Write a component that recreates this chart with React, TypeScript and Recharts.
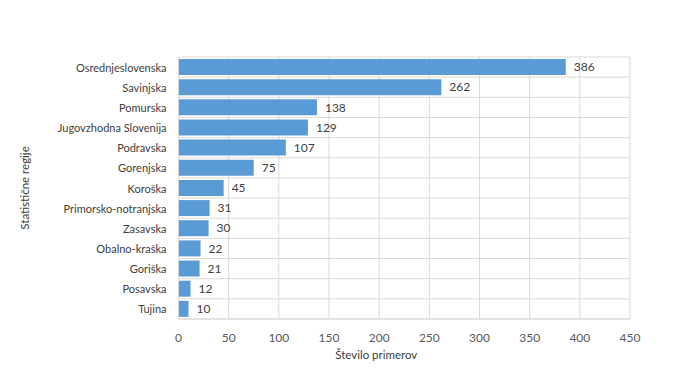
import { BarChart, Bar, XAxis, YAxis, CartesianGrid, LabelList } from 'recharts'

const regions = [
  'Osrednjeslovenska',
  'Savinjska',
  'Pomurska',
  'Jugovzhodna Slovenija',
  'Podravska',
  'Gorenjska',
  'Koroška',
  'Primorsko-notranjska',
  'Zasavska',
  'Obalno-kraška',
  'Goriška',
  'Posavska',
  'Tujina',
]
const counts = [386, 262, 138, 129, 107, 75, 45, 31, 30, 22, 21, 12, 10]
const xTicks = [0, 50, 100, 150, 200, 250, 300, 350, 400, 450]

const data = regions.map((name, i) => ({ name, value: counts[i] }))

const FONT = 'Lato, "Open Sans", sans-serif'
const GRID = '#d9d9d9'

// y ticks drawn by hand so long names stay on one line
const RegionTick = ({ x, y, payload }: any) => (
  <text x={x} y={y} textAnchor="end" dominantBaseline="central" fontSize={11} fill="#404040" fontFamily={FONT}>
    {payload.value}
  </text>
)

export default function App() {
  return (
    <div style={{ position: 'absolute', left: 0, top: 0, width: 697, height: 389, background: '#fff', fontFamily: FONT }}>
      <BarChart
        width={697}
        height={389}
        data={data}
        layout="vertical"
        margin={{ top: 57, right: 67, bottom: 40, left: 40 }}
      >
        <CartesianGrid
          stroke={GRID}
          horizontalCoordinatesGenerator={({ offset }: any) =>
            regions.map((_, i) => offset.top + (i * offset.height) / regions.length).concat(offset.top + offset.height)
          }
        />
        <XAxis
          type="number"
          domain={[0, 450]}
          ticks={xTicks}
          interval={0}
          tickLine={false}
          axisLine={{ stroke: GRID }}
          tickMargin={8}
          tick={{ fontSize: 12, fill: '#595959', fontFamily: FONT }}
          label={{
            content: ({ viewBox }: any) => (
              <text
                x={viewBox.x + viewBox.width / 2 - 28}
                y={viewBox.y + 40}
                textAnchor="middle"
                fontSize={11.5}
                fill="#404040"
                fontFamily={FONT}
              >
                Število primerov
              </text>
            ),
          }}
        />
        <YAxis
          type="category"
          dataKey="name"
          width={138.5}
          interval={0}
          tickLine={false}
          axisLine={{ stroke: GRID }}
          tickMargin={6}
          tick={<RegionTick />}
          label={{
            content: ({ viewBox }: any) => {
              const cy = viewBox.y + viewBox.height / 2
              return (
                <text
                  x={24}
                  y={cy}
                  transform={`rotate(-90 24 ${cy})`}
                  textAnchor="middle"
                  dominantBaseline="central"
                  fontSize={11.5}
                  fill="#404040"
                  fontFamily={FONT}
                >
                  Statistične regije
                </text>
              )
            },
          }}
        />
        <Bar dataKey="value" fill="#5b9bd5" barSize={16} isAnimationActive={false}>
          <LabelList dataKey="value" position="right" offset={8} fontSize={12} fill="#404040" fontFamily={FONT} />
        </Bar>
      </BarChart>
    </div>
  )
}
